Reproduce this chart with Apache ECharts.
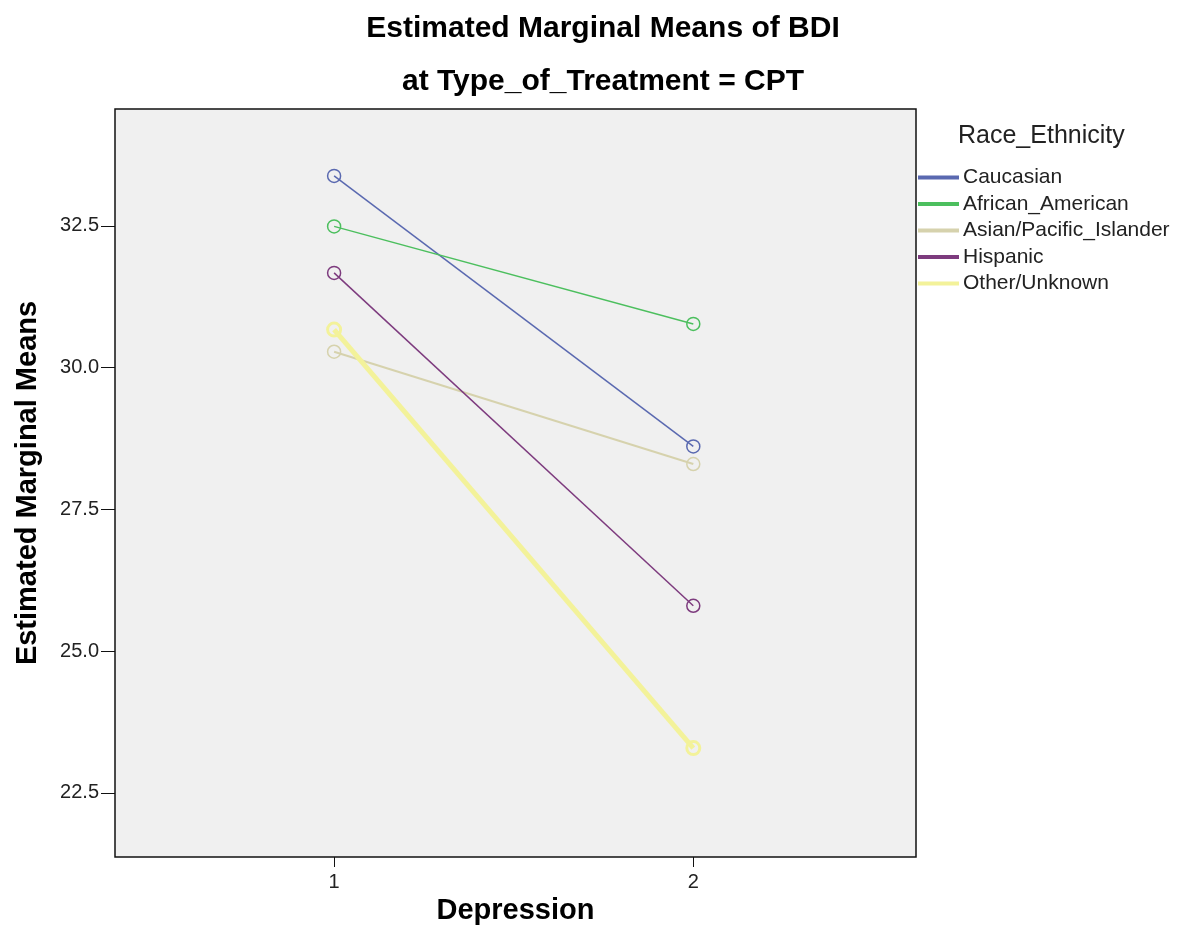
<!DOCTYPE html>
<html>
<head>
<meta charset="utf-8">
<script src="https://cdn.jsdelivr.net/npm/echarts@6/dist/echarts.min.js"></script>
<style>html,body{margin:0;padding:0;background:#fff}#c{width:1181px;height:951px}</style>
</head>
<body>
<div id="c"></div>
<script>
const depressionLevels = [1, 2];
const yTicks = [22.5, 25.0, 27.5, 30.0, 32.5];
const groups = ['Caucasian', 'African_American', 'Asian/Pacific_Islander', 'Hispanic', 'Other/Unknown'];
const caucasian = [33.38, 28.61];
const africanAmerican = [32.49, 30.77];
const asianPacific = [30.28, 28.30];
const hispanic = [31.67, 25.80];
const otherUnknown = [30.67, 23.29];
const groupValues = [caucasian, africanAmerican, asianPacific, hispanic, otherUnknown];
const colors = ['#5a69b0', '#4cbf5e', '#d6d2ad', '#7d3b7e', '#f3f29a'];
const widths = [1.5, 1.5, 2, 1.5, 5];

const font = '"Liberation Sans", Arial, sans-serif';
const chart = echarts.init(document.getElementById('c'));
chart.setOption({
  animation: false,
  backgroundColor: '#ffffff',
  title: [{
    text: 'Estimated Marginal Means of BDI\nat Type_of_Treatment = CPT',
    left: 603, top: 2, padding: 0, textAlign: 'center',
    textStyle: {fontFamily: font, fontWeight: 'bold', fontSize: 30, lineHeight: 53, color: '#000'}
  }, {
    text: 'Race_Ethnicity', left: 958, top: 124, padding: 0,
    textStyle: {fontFamily: font, fontWeight: 'normal', fontSize: 25, color: '#222'}
  }],
  legend: {
    orient: 'vertical', left: 918, top: 167, padding: 0,
    icon: 'rect', itemWidth: 39, itemHeight: 2, itemGap: 5.5,
    textStyle: {fontFamily: font, fontSize: 21, color: '#222'},
    data: groups.map((g, i) => ({name: g, itemStyle: {color: colors[i]}}))
  },
  grid: {left: 115, right: 265, top: 109, bottom: 94, show: true,
    backgroundColor: '#f0f0f0', borderColor: '#111', borderWidth: 1.5},
  xAxis: {
    type: 'value', min: 0.39, max: 2.62,
    name: 'Depression', nameLocation: 'middle', nameGap: 31,
    nameTextStyle: {fontFamily: font, fontWeight: 'bold', fontSize: 29, color: '#000'},
    axisLine: {show: false}, splitLine: {show: false},
    axisTick: {show: true, length: 10, inside: false, customValues: depressionLevels, lineStyle: {color: '#111'}},
    axisLabel: {customValues: depressionLevels, fontFamily: font, fontSize: 20, color: '#222', margin: 15}
  },
  yAxis: {
    type: 'value', min: 21.37, max: 34.56,
    name: 'Estimated Marginal Means', nameLocation: 'middle', nameGap: 73,
    nameTextStyle: {fontFamily: font, fontWeight: 'bold', fontSize: 29, color: '#000'},
    axisLine: {show: false}, splitLine: {show: false},
    axisTick: {show: true, length: 14, customValues: yTicks, lineStyle: {color: '#111'}},
    axisLabel: {customValues: yTicks, fontFamily: font, fontSize: 20, color: '#222', margin: 16,
      formatter: v => v.toFixed(1)}
  },
  series: groups.map((g, i) => ({
    name: g, type: 'line',
    data: depressionLevels.map((d, j) => [d, groupValues[i][j]]),
    symbol: 'circle', symbolSize: 13,
    color: colors[i],
    lineStyle: {width: widths[i], color: colors[i]},
    itemStyle: {color: 'rgba(0,0,0,0)', borderColor: colors[i], borderWidth: i === 4 ? 3 : 1.5}
  }))
});
</script>
</body>
</html>
